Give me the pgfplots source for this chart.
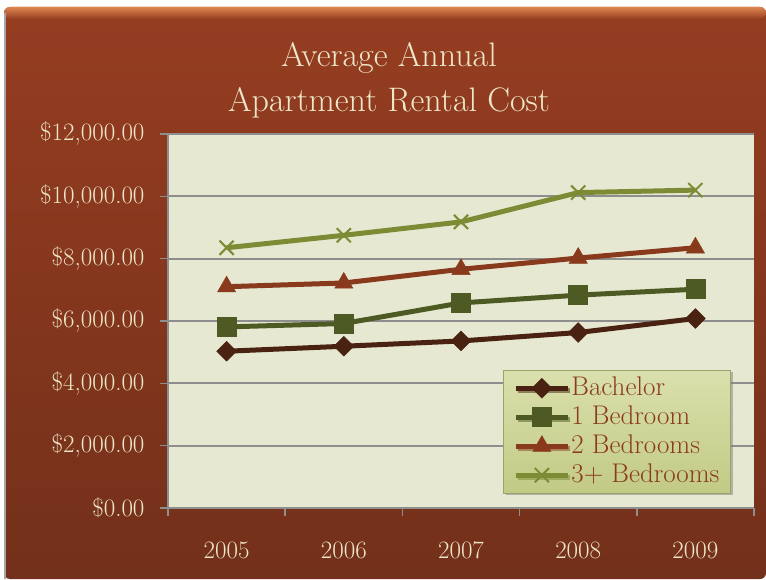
\documentclass[border=0pt]{standalone}
\usepackage{pgfplots}
\pgfplotsset{compat=1.18}
\usetikzlibrary{shadows}
\definecolor{bgtop}{HTML}{963D21}
\definecolor{bgbot}{HTML}{73301A}
\definecolor{bevel}{HTML}{DE8550}
\definecolor{plotbg}{HTML}{E6E8D1}
\definecolor{gridc}{HTML}{8E8E8E}
\definecolor{cream}{HTML}{EDE6C8}
\definecolor{cBach}{HTML}{4A2212}
\definecolor{cOne}{HTML}{4E5A23}
\definecolor{cTwo}{HTML}{8A3A1C}
\definecolor{cThree}{HTML}{7E8B35}
\definecolor{legtop}{HTML}{DAE0AC}
\definecolor{legbot}{HTML}{C2CA85}
\definecolor{legtext}{HTML}{8B3A1C}

\pgfplotstableread{
x Bachelor One Two Three
1 5030 5810 7100 8350
2 5190 5920 7220 8750
3 5360 6580 7660 9180
4 5630 6830 8020 10120
5 6080 7020 8350 10200
}\rentdata

\begin{document}
\begin{tikzpicture}
\useasboundingbox (0pt,0pt) rectangle (766pt,579pt);
\fill[white] (0pt,0pt) rectangle (766pt,579pt);
\shade[top color=bgtop, bottom color=bgbot, rounded corners=6pt] (4pt,0pt) rectangle (766pt,572pt);
\shade[top color=bevel, bottom color=bgtop, rounded corners=6pt] (4pt,560pt) rectangle (766pt,572pt);
\draw[gray!70, line width=1.5pt] (5pt,0pt) -- (5pt,566pt);

\begin{axis}[
  at={(168pt,71pt)}, anchor=south west,
  scale only axis, width=586pt, height=374pt,
  xmin=0.5, xmax=5.5, ymin=0, ymax=12000,
  scaled y ticks=false,
  axis background/.style={fill=plotbg},
  axis x line=bottom, axis y line=left,
  axis line style={-, draw=gridc, line width=2pt},
  xtick={0.5,1.5,2.5,3.5,4.5,5.5},
  xticklabels={2005,2006,2007,2008,2009,{}},
  x tick label style={xshift=58.6pt, yshift=-22pt},
  ytick={0,2000,4000,6000,8000,10000,12000},
  yticklabels={\$0.00,{\$2,000.00},{\$4,000.00},{\$6,000.00},{\$8,000.00},{\$10,000.00},{\$12,000.00}},
  y tick label style={xshift=-12pt},
  tick label style={text=cream, font=\fontsize{25}{30}\selectfont},
  tick align=outside, major tick length=8pt,
  tick style={draw=gridc, line width=1.5pt},
  ymajorgrids, major grid style={draw=gridc, line width=2pt},
  legend style={at={(0.572,0.369)}, anchor=north west,
    top color=legtop, bottom color=legbot, draw=legbot!80!black, drop shadow,
    font=\fontsize{27}{30}\selectfont, text=legtext, row sep=1pt,
    nodes={inner sep=1pt, text depth=6pt, text height=20pt},
    inner xsep=10pt, inner ysep=4pt},
  legend cell align=left,
  legend image code/.code={\draw[mark repeat=2,mark phase=2,#1] plot coordinates {(0pt,0pt) (26pt,0pt) (52pt,0pt)};},
  clip=false,
]
\addplot[cBach, line width=5pt, mark=square*, mark size=7pt, mark options={rotate=45, solid, fill=cBach, line width=0.5pt}] table[x=x,y=Bachelor]{\rentdata};
\addlegendentry{Bachelor}
\addplot[cOne, line width=5pt, mark=square*, mark size=9.5pt, mark options={solid, fill=cOne, line width=0.5pt}] table[x=x,y=One]{\rentdata};
\addlegendentry{1 Bedroom}
\addplot[cTwo, line width=5pt, mark=triangle*, mark size=10.5pt, mark options={solid, fill=cTwo, line width=0.5pt}] table[x=x,y=Two]{\rentdata};
\addlegendentry{2 Bedrooms}
\addplot[cThree, line width=5pt, mark=x, mark size=10pt, mark options={solid, line width=2pt}] table[x=x,y=Three]{\rentdata};
\addlegendentry{3+ Bedrooms}
\end{axis}

\node[align=center, text=cream, font=\fontsize{34}{45}\selectfont] at (389pt,499pt) {Average Annual\\Apartment Rental Cost};
\end{tikzpicture}
\end{document}
